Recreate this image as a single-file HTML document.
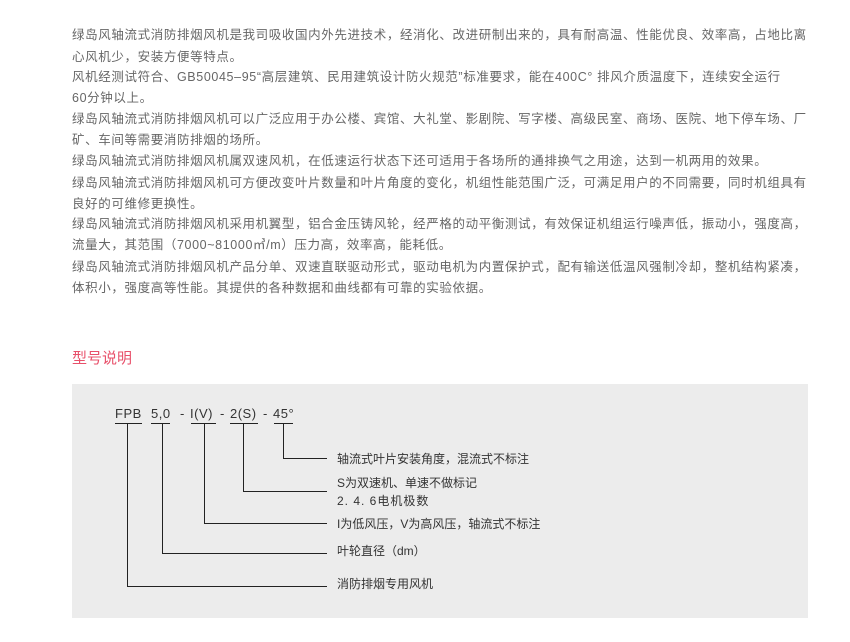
<!DOCTYPE html>
<html><head><meta charset="utf-8"><style>
body{margin:0;width:850px;height:642px;background:#fff;position:relative;overflow:hidden;font-family:"Liberation Sans","Noto Sans CJK SC",sans-serif;}
.t{position:absolute;left:72px;white-space:nowrap;font-size:12.5px;color:#666;letter-spacing:0.62px;line-height:14px}
.title{position:absolute;left:72px;top:347px;font-size:15px;color:#e8506a;}
.box{position:absolute;left:72px;top:384px;width:736px;height:234px;background:#ececec;}
.l{position:absolute;font-size:12px;color:#333;white-space:nowrap;line-height:14px}
.c{position:absolute;top:407px;font-size:13px;color:#333;white-space:nowrap;line-height:14px;letter-spacing:0.5px}
</style></head><body>
<div class="t" style="top:28px">绿岛风轴流式消防排烟风机是我司吸收国内外先进技术，经消化、改进研制出来的，具有耐高温、性能优良、效率高，占地比离</div>
<div class="t" style="top:50px">心风机少，安装方便等特点。</div>
<div class="t" style="top:70px">风机经测试符合、GB50045–95“高层建筑、民用建筑设计防火规范”标准要求，能在400C° 排风介质温度下，连续安全运行</div>
<div class="t" style="top:91px">60分钟以上。</div>
<div class="t" style="top:112px">绿岛风轴流式消防排烟风机可以广泛应用于办公楼、宾馆、大礼堂、影剧院、写字楼、高级民室、商场、医院、地下停车场、厂</div>
<div class="t" style="top:133px">矿、车间等需要消防排烟的场所。</div>
<div class="t" style="top:154px">绿岛风轴流式消防排烟风机属双速风机，在低速运行状态下还可适用于各场所的通排换气之用途，达到一机两用的效果。</div>
<div class="t" style="top:176px">绿岛风轴流式消防排烟风机可方便改变叶片数量和叶片角度的变化，机组性能范围广泛，可满足用户的不同需要，同时机组具有</div>
<div class="t" style="top:197px">良好的可维修更换性。</div>
<div class="t" style="top:217px">绿岛风轴流式消防排烟风机采用机翼型，铝合金压铸风轮，经严格的动平衡测试，有效保证机组运行噪声低，振动小，强度高，</div>
<div class="t" style="top:238px">流量大，其范围（7000~81000㎥/m）压力高，效率高，能耗低。</div>
<div class="t" style="top:260px">绿岛风轴流式消防排烟风机产品分单、双速直联驱动形式，驱动电机为内置保护式，配有输送低温风强制冷却，整机结构紧凑，</div>
<div class="t" style="top:281px">体积小，强度高等性能。其提供的各种数据和曲线都有可靠的实验依据。</div>
<div class="title">型号说明</div>
<div class="box"></div>
<div class="c" style="left:115px">FPB</div>
<div class="c" style="left:151px">5,0</div>
<div class="c" style="left:180px">-</div>
<div class="c" style="left:190px">I(V)</div>
<div class="c" style="left:220px">-</div>
<div class="c" style="left:230px">2(S)</div>
<div class="c" style="left:263px">-</div>
<div class="c" style="left:273px">45°</div>
<svg style="position:absolute;left:0;top:0" width="850" height="642">
<g stroke="#222" stroke-width="1" fill="none">
<path d="M115 423.5H142M151 423.5H170M191 423.5H216M230 423.5H258M274 423.5H293"/>
<path d="M127.5 423.5V586.5H327"/>
<path d="M162.5 423.5V553.5H327"/>
<path d="M204.5 423.5V523.5H327"/>
<path d="M243.5 423.5V491.5H327"/>
<path d="M283.5 423.5V458.5H327"/>
</g></svg>
<div class="l" style="left:337px;top:452px">轴流式叶片安装角度，混流式不标注</div>
<div class="l" style="left:337px;top:476px">S为双速机、单速不做标记</div>
<div class="l" style="left:337px;top:494px;letter-spacing:1px">2. 4. 6电机极数</div>
<div class="l" style="left:337px;top:517px">I为低风压，V为高风压，轴流式不标注</div>
<div class="l" style="left:337px;top:544px">叶轮直径（dm）</div>
<div class="l" style="left:337px;top:577px">消防排烟专用风机</div>
</body></html>
